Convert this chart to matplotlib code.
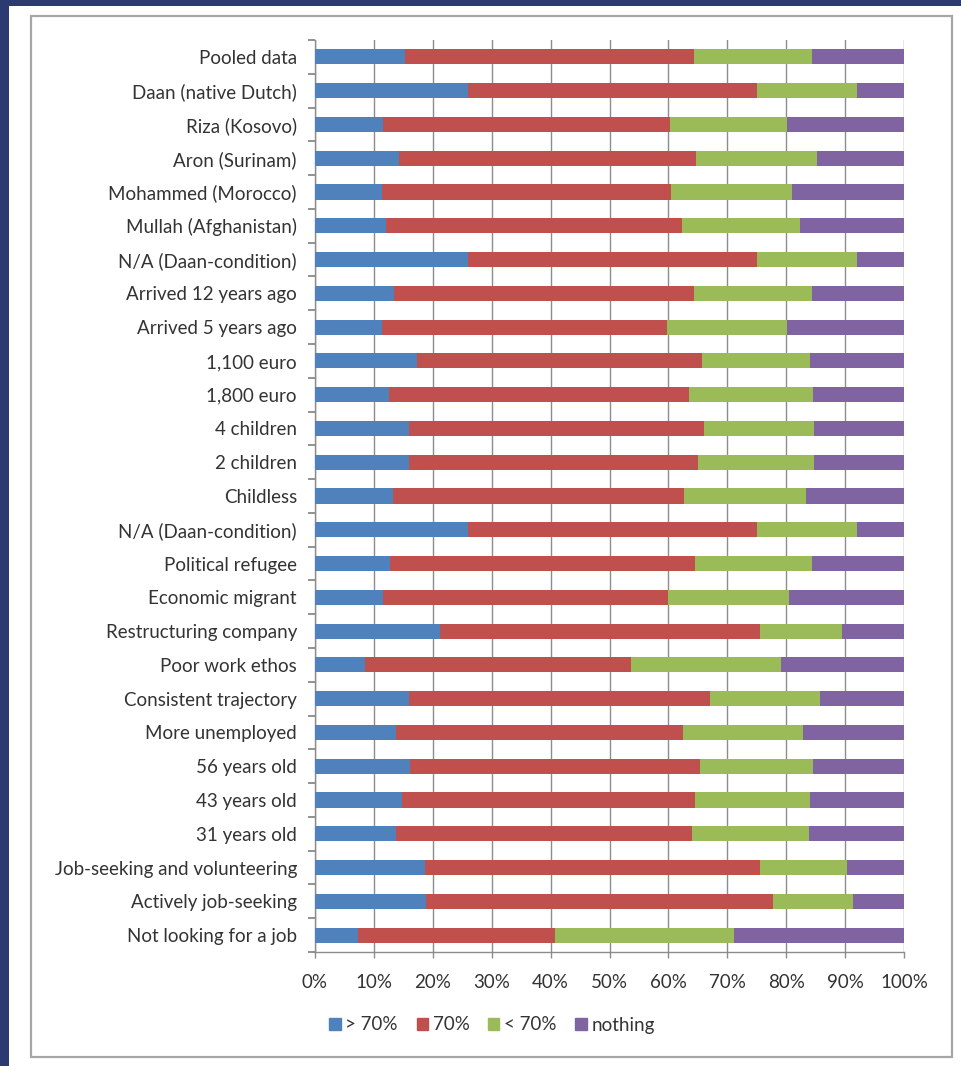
import matplotlib
matplotlib.use("Agg")
import matplotlib.pyplot as plt
import matplotlib.patches as mpatches
import numpy as np

categories = [
    "Pooled data", "Daan (native Dutch)", "Riza (Kosovo)", "Aron (Surinam)",
    "Mohammed (Morocco)", "Mullah (Afghanistan)", "N/A (Daan-condition)",
    "Arrived 12 years ago", "Arrived 5 years ago", "1,100 euro", "1,800 euro",
    "4 children", "2 children", "Childless", "N/A (Daan-condition)",
    "Political refugee", "Economic migrant", "Restructuring company",
    "Poor work ethos", "Consistent trajectory", "More unemployed",
    "56 years old", "43 years old", "31 years old",
    "Job-seeking and volunteering", "Actively job-seeking", "Not looking for a job",
]
# cumulative boundaries (percent)
cum_blue = [15.2, 26.0, 11.5, 14.2, 11.3, 12.0, 26.0, 13.4, 11.3, 17.4, 12.5, 16.0, 15.9, 13.3,
            26.0, 12.7, 11.6, 21.3, 8.5, 15.9, 13.8, 16.1, 14.8, 13.8, 18.7, 18.9, 7.3]
cum_red = [64.4, 75.0, 60.3, 64.7, 60.4, 62.3, 75.0, 64.4, 59.7, 65.7, 63.5, 66.1, 65.0, 62.6,
           75.0, 64.5, 59.9, 75.5, 53.7, 67.0, 62.4, 65.4, 64.5, 64.0, 75.5, 77.7, 40.7]
cum_green = [84.3, 92.1, 80.2, 85.3, 81.0, 82.4, 92.1, 84.3, 80.2, 84.0, 84.6, 84.8, 84.8, 83.4,
             92.1, 84.3, 80.4, 89.4, 79.1, 85.7, 82.9, 84.6, 84.1, 83.9, 90.3, 91.3, 71.2]

above70 = np.array(cum_blue)
exact70 = np.array(cum_red) - np.array(cum_blue)
below70 = np.array(cum_green) - np.array(cum_red)
nothing = 100 - np.array(cum_green)

series_names = ["> 70%", "70%", "< 70%", "nothing"]
colors = ["#4f81bd", "#c0504d", "#9bbb59", "#8064a2"]

plt.rcParams["font.family"] = ["Lato", "DejaVu Sans"]
FS = 13.5

W, H = 961, 1066
fig = plt.figure(figsize=(W / 100, H / 100), dpi=100)
fig.patch.set_facecolor("#2b3b72")

# white panel
fig.patches.append(mpatches.Rectangle((9 / W, 0), 1 - 9 / W, 1 - 6 / H, transform=fig.transFigure,
                                      facecolor="white", edgecolor="none", zorder=-2))
# grey chart border
fig.patches.append(mpatches.Rectangle((31 / W, 1 - 1057 / H), (952 - 31) / W, (1057 - 16) / H,
                                      transform=fig.transFigure, facecolor="none",
                                      edgecolor="#a6a6a6", linewidth=1.6, zorder=-1))

left, right, top, bottom = 315, 904, 40, 952
ax = fig.add_axes([left / W, 1 - bottom / H, (right - left) / W, (bottom - top) / H])
ax.set_facecolor("none")
ax.set_zorder(2)

n = len(categories)
y = np.arange(n)
h = 0.45
lefts = np.zeros(n)
for vals, c, name in zip([above70, exact70, below70, nothing], colors, series_names):
    ax.barh(y, vals, left=lefts, height=h, color=c, label=name, zorder=3)
    lefts = lefts + vals

ax.set_xlim(0, 100)
ax.set_ylim(n - 0.5, -0.5)
ax.set_xticks(np.arange(0, 101, 10))
ax.set_xticklabels([f"{v}%" for v in range(0, 101, 10)])
ax.set_yticks(y)
ax.set_yticklabels(categories)
ax.set_yticks(np.arange(-0.5, n, 1), minor=True)
ax.tick_params(axis="y", which="major", length=0, pad=13, labelsize=FS, labelcolor="#333333")
ax.tick_params(axis="y", which="minor", length=5, color="#7f7f7f", width=1.2, left=True)
ax.tick_params(axis="x", which="major", length=4, color="#8c8c8c", width=1, pad=12,
               labelsize=FS, labelcolor="#333333")
ax.grid(axis="x", color="#8c8c8c", linewidth=1, zorder=0)
ax.set_axisbelow(True)
for s in ["top", "right"]:
    ax.spines[s].set_visible(False)
for s in ["left", "bottom"]:
    ax.spines[s].set_color("#8c8c8c")
    ax.spines[s].set_linewidth(1)

handles = [mpatches.Patch(color=c, label=nm) for c, nm in zip(colors, series_names)]
fig.legend(handles=handles, loc="center", bbox_to_anchor=(492 / W, 1 - 1025 / H), ncol=4,
           frameon=False, fontsize=FS, handlelength=0.6, handleheight=0.6, handletextpad=0.25,
           columnspacing=1.0, labelcolor="#333333")

fig.savefig("out.png", dpi=100, facecolor=fig.get_facecolor())
